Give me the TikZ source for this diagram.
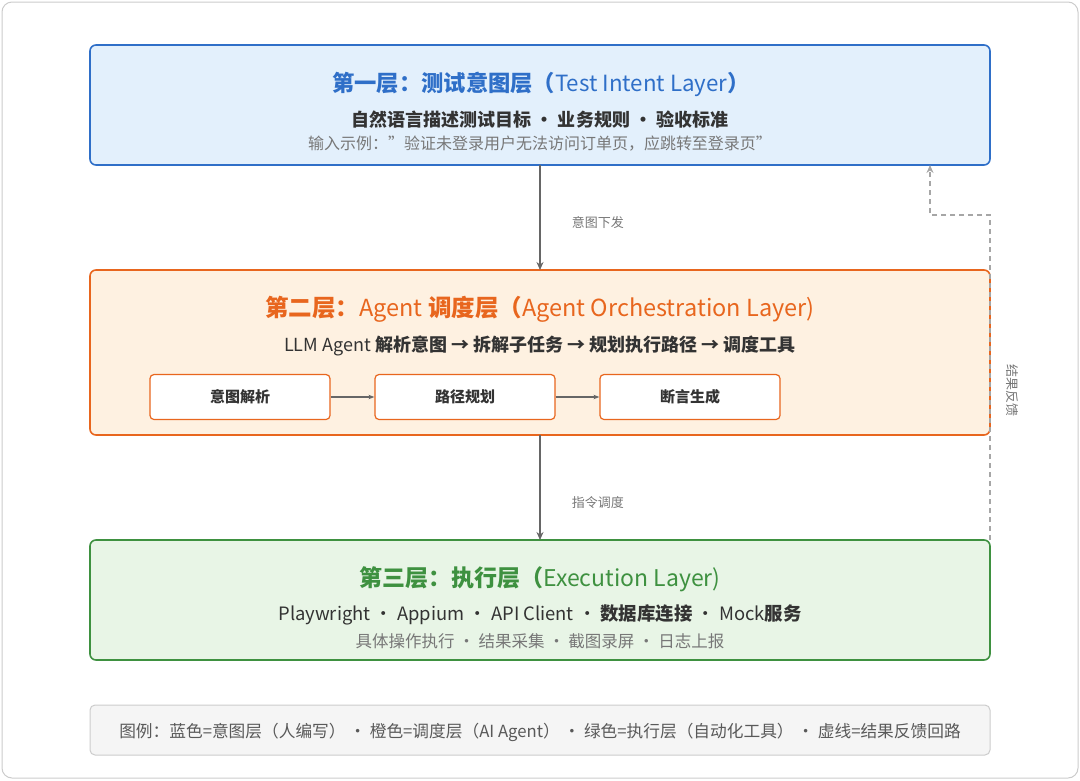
\documentclass[tikz,border=0pt]{standalone}
\usepackage{fontspec}
\setmainfont{Noto Sans CJK SC}
\usetikzlibrary{arrows.meta}
\definecolor{bluef}{HTML}{E3F0FC}\definecolor{blued}{HTML}{2F6FC8}
\definecolor{orf}{HTML}{FEF1E1}\definecolor{ord}{HTML}{E8661E}
\definecolor{grf}{HTML}{E8F5E6}\definecolor{grd}{HTML}{3E9140}
\definecolor{txt}{HTML}{333333}\definecolor{sub}{HTML}{777777}
\newcommand{\rg}[1]{{\mdseries #1}}
\tikzset{layer/.style={draw,line width=1.6pt,rounded corners=6pt},
 stepbox/.style={draw=ord,line width=1.2pt,fill=white,rounded corners=4pt,minimum width=180pt,minimum height=45pt,font=\fontsize{15}{16}\selectfont\bfseries,text=txt},
 arr/.style={-{Stealth[length=8pt,width=7pt]},line width=1.3pt,draw=black!60},
 lab/.style={font=\fontsize{13}{14}\selectfont,text=sub}}
\begin{document}
\begin{tikzpicture}[x=1pt,y=-1pt]
\useasboundingbox (0,0) rectangle (1080,780);
\draw[black!20,fill=white,rounded corners=10pt,line width=1pt] (2,2) rectangle (1078,778);
% layers
\draw[layer,draw=blued,fill=bluef] (90,45) rectangle (990,165);
\node[text=blued,font=\fontsize{22.3}{24}\selectfont\bfseries] (t1) at (541,84) {第一层：测试意图层（\rg{Test Intent Layer}）};
\node[text=txt,font=\fontsize{18}{18}\selectfont\bfseries] (s1) at (540,120) {自然语言描述测试目标 · 业务规则 · 验收标准};
\node[text=sub,font=\fontsize{16}{16}\selectfont] (e1) at (540,144) {输入示例："验证未登录用户无法访问订单页，应跳转至登录页"};
\draw[layer,draw=ord,fill=orf] (90,270) rectangle (990,435);
\node[text=ord,font=\fontsize{23.5}{24}\selectfont\bfseries] (t2) at (540,309) {第二层：\rg{Agent} 调度层（\rg{Agent Orchestration Layer)}};
\node[text=txt,font=\fontsize{18}{18}\selectfont\bfseries] (s2) at (540,346) {\rg{LLM Agent} 解析意图 → 拆解子任务 → 规划执行路径 → 调度工具};
\node[stepbox] (a) at (240,397) {意图解析};
\node[stepbox] (b) at (465,397) {路径规划};
\node[stepbox] (c) at (690,397) {断言生成};
\draw[-{Stealth[length=6pt]},draw=black!60,line width=1.1pt] (a) -- (b);
\draw[-{Stealth[length=6pt]},draw=black!60,line width=1.1pt] (b) -- (c);
\draw[layer,draw=grd,fill=grf] (90,540) rectangle (990,660);
\node[text=grd,font=\fontsize{23}{24}\selectfont\bfseries] (t3) at (540,579) {第三层：执行层（\rg{Execution Layer)}};
\node[text=txt,font=\fontsize{18.4}{18}\selectfont] (s3) at (540,615) {Playwright · Appium · API Client · \textbf{数据库连接} · Mock\textbf{服务}};
\node[text=sub,font=\fontsize{16.5}{16}\selectfont] (e3) at (540,641) {具体操作执行 · 结果采集 · 截图录屏 · 日志上报};
% connectors
\coordinate (b1) at (540,165); \coordinate (o1) at (540,270);
\coordinate (o2) at (540,435); \coordinate (g1) at (540,540);
\draw[arr] (b1) -- (o1) node[lab,pos=0.55,right=28pt] {意图下发};
\draw[arr] (o2) -- (g1) node[lab,pos=0.64,right=28pt] {指令调度};
\coordinate (f0) at (990,540); \coordinate (f1) at (990,215); \coordinate (f2) at (930,215); \coordinate (f3) at (930,165);
\draw[-{Stealth[length=8pt,width=7pt]},draw=black!35,line width=1.3pt,dash pattern=on 5pt off 4pt] (f0) -- (f1) -- (f2) -- (f3);
\node[lab,rotate=-90] (fb) at (1012,390) {结果反馈};
% legend
\draw[black!20,fill=black!4,rounded corners=5pt,line width=1pt] (90,705) rectangle (990,755);
\node[text=black!65,font=\fontsize{16.7}{16}\selectfont] (lg) at (540,732) {图例：蓝色=意图层（人编写） · 橙色=调度层（AI Agent） · 绿色=执行层（自动化工具） · 虚线=结果反馈回路};
\end{tikzpicture}
\end{document}
